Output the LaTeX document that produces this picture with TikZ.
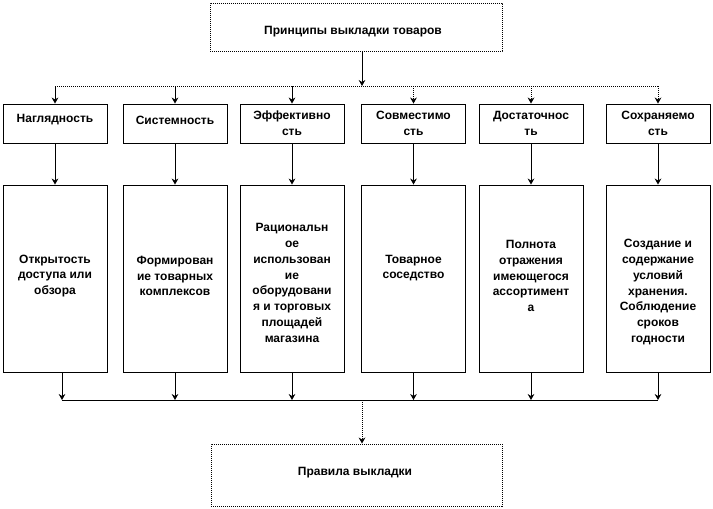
\documentclass[tikz,border=0pt]{standalone}
\usepackage{fontspec}
\setmainfont{Liberation Sans}
\usetikzlibrary{arrows.meta,calc}
\begin{document}
\begin{tikzpicture}[x=0.75pt,y=-0.75pt,
  frame/.style={draw,line width=0.7pt,inner sep=0pt,fill=white},
  dots/.style={dash pattern=on 0.9pt off 0.6pt},
  bigbox/.style={frame,dots,minimum width=219pt,minimum height=36pt},
  endbox/.style={frame,dots,minimum width=218.25pt,minimum height=46.5pt},
  headbox/.style={frame,minimum width=78pt,minimum height=29.25pt},
  bodybox/.style={frame,minimum width=78pt,minimum height=140.25pt},
  txt/.style={align=center,inner sep=0pt,font=\fontsize{9}{11.85}\selectfont\bfseries},
  conn/.style={line width=0.7pt,-{Stealth[length=4.5pt,width=5pt]}},
  dconn/.style={conn,dots},
  line/.style={line width=0.7pt},
  dline/.style={line,dots}]
\useasboundingbox (0,0) rectangle (713,508);

% top box
\node[bigbox] (top) at (356,27) {};
\node[txt] (ttop) at (353,32) {Принципы выкладки товаров};

% header row
\node[headbox] (b1) at (55,123.5) {};
\node[headbox] (b2) at (175,123.5) {};
\node[headbox] (b3) at (292,123.5) {};
\node[headbox] (b4) at (413.5,123.5) {};
\node[headbox] (b5) at (531,123.5) {};
\node[headbox] (b6) at (658,123.5) {};
\node[txt] (tb1) at (55,120) {Наглядность};
\node[txt] (tb2) at (175,120) {Системность};
\node[txt] (tb3) at (292,123.5) {Эффективно\\сть};
\node[txt] (tb4) at (413.5,123.5) {Совместимо\\сть};
\node[txt] (tb5) at (531,123.5) {Достаточнос\\ть};
\node[txt] (tb6) at (658,123.5) {Сохраняемо\\сть};

% body row
\node[bodybox] (c1) at (55,278.5) {};
\node[bodybox] (c2) at (175,278.5) {};
\node[bodybox] (c3) at (292,278.5) {};
\node[bodybox] (c4) at (413.5,278.5) {};
\node[bodybox] (c5) at (531,278.5) {};
\node[bodybox] (c6) at (658,278.5) {};
\node[txt] (tc1) at (55,276) {Открытость\\доступа или\\обзора};
\node[txt] (tc2) at (175,276) {Формирован\\ие товарных\\комплексов};
\node[txt] (tc3) at (292,283) {Рациональн\\ое\\использован\\ие\\оборудовани\\я и торговых\\площадей\\магазина};
\node[txt] (tc4) at (413.5,268) {Товарное\\соседство};
\node[txt] (tc5) at (531,276) {Полнота\\отражения\\имеющегося\\ассортимент\\а};
\node[txt] (tc6) at (658,292) {Создание и\\содержание\\условий\\хранения.\\Соблюдение\\сроков\\годности};

% bottom box
\node[endbox] (bot) at (356.5,475) {};
\node[txt] (tbot) at (355,473) {Правила выкладки};

% top distribution
\coordinate (tj) at (362,86);
\coordinate (bj) at (362,400);
\draw[dconn] (top.south -| tj) -- (tj);
\draw[dline] (b1.north |- tj) -- (b6.north |- tj);
\draw[conn] (b1.north |- tj) -- (b1.north);
\draw[conn] (b2.north |- tj) -- (b2.north);
\draw[conn] (b3.north |- tj) -- (b3.north);
\draw[dconn] (b4.north |- tj) -- (b4.north);
\draw[dconn] (b5.north |- tj) -- (b5.north);
\draw[dconn] (b6.north |- tj) -- (b6.north);

% header to body
\draw[conn] (b1) -- (c1);
\draw[conn] (b2) -- (c2);
\draw[conn] (b3) -- (c3);
\draw[dconn] (b4) -- (c4);
\draw[dconn] (b5) -- (c5);
\draw[conn] (b6) -- (c6);

% body to collector
\coordinate (k1) at ([xshift=5.25pt]c1.south);
\draw[dconn] (k1) -- (k1 |- bj);
\draw[conn] (c2.south) -- (c2.south |- bj);
\draw[conn] (c3.south) -- (c3.south |- bj);
\draw[dconn] (c4.south) -- (c4.south |- bj);
\draw[dconn] (c5.south) -- (c5.south |- bj);
\draw[conn] (c6.south) -- (c6.south |- bj);
\draw[line] (k1 |- bj) -- (c6.south |- bj);
\draw[dconn] (bj) -- (bot.north -| bj);
\end{tikzpicture}
\end{document}
